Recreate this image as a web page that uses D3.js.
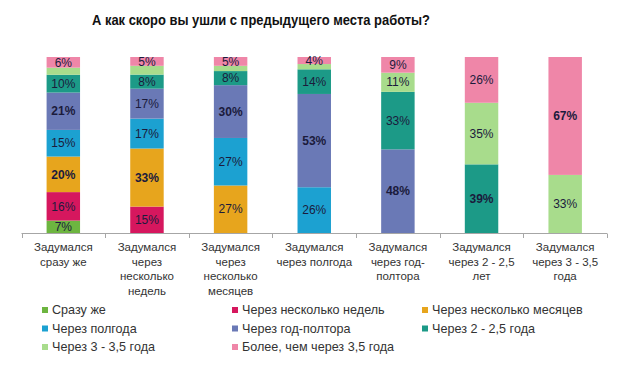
<!DOCTYPE html>
<html>
<head>
<meta charset="utf-8">
<script src="https://cdn.jsdelivr.net/npm/d3@7"></script>
<style>
  body { margin: 0; background: #fff; }
  svg { display: block; font-family: "Liberation Sans", Arial, sans-serif; }
</style>
</head>
<body>
<svg id="chart" width="620" height="365"></svg>
<script>
// categories (x axis labels, one array of lines per bar)
const categories = [
  ['Задумался', 'сразу же'],
  ['Задумался', 'через', 'несколько', 'недель'],
  ['Задумался', 'через', 'несколько', 'месяцев'],
  ['Задумался', 'через полгода'],
  ['Задумался', 'через год-', 'полтора'],
  ['Задумался', 'через 2 - 2,5', 'лет'],
  ['Задумался', 'через 3 - 3,5', 'года']
];

const seriesNames = [
  'Сразу же',
  'Через несколько недель',
  'Через несколько месяцев',
  'Через полгода',
  'Через год-полтора',
  'Через 2 - 2,5 года',
  'Через 3 - 3,5 года',
  'Более, чем через 3,5 года'
];

const seriesColors = ['#6db540', '#d6175e', '#e7a51d', '#1ca1d1', '#6a79b6', '#1c9a87', '#a8dc8c', '#ef86a8'];

// values per series, one per category (%)
const sraz = [7, 0, 0, 0, 0, 0, 0];
const nedel = [16, 15, 0, 0, 0, 0, 0];
const mesyacev = [20, 33, 27, 0, 0, 0, 0];
const polgoda = [15, 17, 27, 26, 0, 0, 0];
const godPoltora = [21, 17, 30, 53, 48, 0, 0];
const goda2 = [10, 8, 8, 14, 33, 39, 0];
const goda3 = [4, 5, 3, 3, 11, 35, 33];
const bolee = [6, 5, 5, 4, 9, 26, 67];

const seriesValues = [sraz, nedel, mesyacev, polgoda, godPoltora, goda2, goda3, bolee];

const title = 'А как скоро вы ушли с предыдущего места работы?';

const svg = d3.select('#chart');

// build rows for d3.stack
const rows = categories.map((c, i) => {
  const r = { idx: i };
  seriesNames.forEach((s, j) => { r[s] = seriesValues[j][i]; });
  return r;
});

const stack = d3.stack().keys(seriesNames).offset(d3.stackOffsetExpand);
const stacked = stack(rows);

const x = d3.scaleBand()
  .domain(categories.map((c, i) => i))
  .range([21.5, 607])
  .paddingInner(0.6)
  .paddingOuter(0.3);

const y = d3.scaleLinear().domain([0, 1]).range([233, 57]);

// title (narrow bold face in the original, so squeeze it)
svg.append('text')
  .attr('x', 92)
  .attr('y', 25)
  .attr('font-size', 15)
  .attr('font-weight', 'bold')
  .attr('fill', '#111')
  .attr('textLength', 338)
  .attr('lengthAdjust', 'spacingAndGlyphs')
  .text(title);

// bars
const layers = svg.append('g').selectAll('g')
  .data(stacked)
  .join('g')
  .attr('fill', (d, i) => seriesColors[i]);

layers.selectAll('rect')
  .data(d => d)
  .join('rect')
  .attr('x', d => x(d.data.idx))
  .attr('width', x.bandwidth())
  .attr('y', d => y(d[1]))
  .attr('height', d => Math.max(0, y(d[0]) - y(d[1])));

// data labels
const maxPerBar = categories.map((c, i) => d3.max(seriesValues, v => v[i]));
const labels = [];
stacked.forEach((layer, j) => {
  layer.forEach(d => {
    const v = seriesValues[j][d.data.idx];
    if (!v) return;
    // the small light-green segments carry no label in the original
    if (j === 6 && v < 10) return;
    labels.push({ v, idx: d.data.idx, mid: (d[0] + d[1]) / 2, bold: v >= maxPerBar[d.data.idx] - 1 });
  });
});

svg.append('g').selectAll('text')
  .data(labels)
  .join('text')
  .attr('x', d => x(d.idx) + x.bandwidth() / 2)
  .attr('y', d => y(d.mid))
  .attr('dy', '0.35em')
  .attr('text-anchor', 'middle')
  .attr('font-size', 12)
  .attr('font-weight', d => d.bold ? 'bold' : 'normal')
  .attr('fill', '#1b1b3c')
  .text(d => d.v + '%');

// x axis line with ticks between categories
const axisG = svg.append('g').attr('stroke', '#a6a6a6').attr('stroke-width', 1);
const [x0, x1] = x.range();
axisG.append('line')
  .attr('x1', x0).attr('x2', x1)
  .attr('y1', 233.5).attr('y2', 233.5);
d3.range(categories.length + 1).forEach(i => {
  const tx = Math.round(x0 + i * x.step()) + 0.5;
  axisG.append('line')
    .attr('x1', tx).attr('x2', tx)
    .attr('y1', 233.5).attr('y2', 238);
});

// category labels
const catG = svg.append('g')
  .attr('font-size', 11.5)
  .attr('fill', '#333')
  .attr('text-anchor', 'middle');
categories.forEach((lines, i) => {
  const t = catG.append('text')
    .attr('x', x(i) + x.bandwidth() / 2)
    .attr('y', 251);
  lines.forEach((l, k) => {
    t.append('tspan')
      .attr('x', x(i) + x.bandwidth() / 2)
      .attr('dy', k === 0 ? 0 : 14.5)
      .text(l);
  });
});

// legend
const legendCols = [45, 235, 425];
const legendRows = [310, 328.5, 347];
const legend = svg.append('g').attr('font-size', 12.6).attr('fill', '#333');
seriesNames.forEach((s, i) => {
  const cx = legendCols[i % 3];
  const cy = legendRows[Math.floor(i / 3)];
  legend.append('rect')
    .attr('x', cx - 3).attr('y', cy - 3)
    .attr('width', 6).attr('height', 6)
    .attr('fill', seriesColors[i]);
  legend.append('text')
    .attr('x', cx + 7)
    .attr('y', cy)
    .attr('dy', '0.35em')
    .text(s);
});
</script>
</body>
</html>
